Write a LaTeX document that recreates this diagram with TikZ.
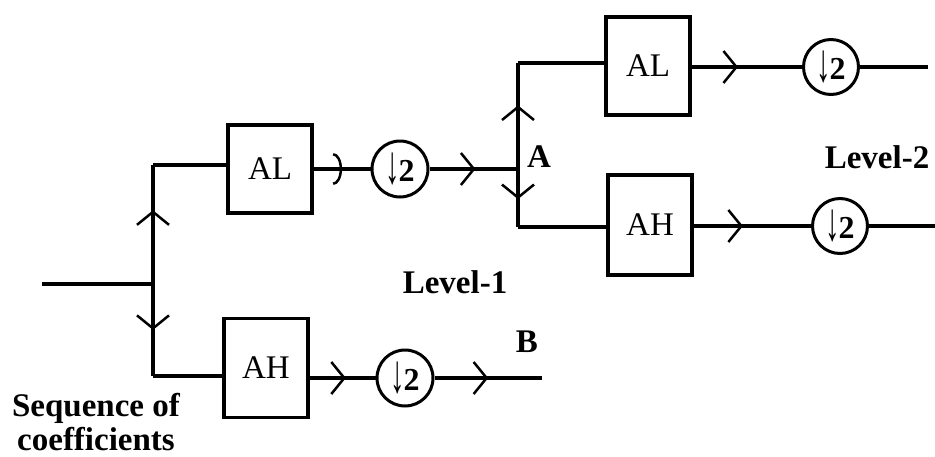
\documentclass[tikz,border=0pt]{standalone}
\usepackage{fontspec}
\setmainfont{Liberation Serif}
\usetikzlibrary{arrows.meta,
                decorations.markings,
                positioning}
\tikzset{block/.style=
   {rectangle,
    draw,
    line width=3.5pt,
    text centered,
    inner sep=0pt,
    minimum width=84pt,
    minimum height=95pt,
    font=\fontsize{33}{35}\selectfont}}
\tikzset{dsamp/.style=
   {circle,
    draw,
    line width=3pt,
    inner sep=0pt,
    minimum size=56pt,
    font=\fontsize{32}{34}\selectfont}}
\tikzset{wire/.style = {draw, line width=3.5pt}}
\tikzset{barb/.tip = {Straight Barb[length=13pt,width=32pt,line width=2.5pt]}}
\tikzset{curl/.tip = {Arc Barb[length=9pt,width=32pt,line width=2.5pt]}}
\tikzset{flow/.style = {postaction={decorate},
    decoration={markings, mark=at position #1 with {\arrow{barb}}}},
    flow/.default=0.5}
\tikzset{curlflow/.style = {postaction={decorate},
    decoration={markings, mark=at position #1 with {\arrow{curl}}}},
    curlflow/.default=0.5}
\tikzset{lbl/.style = {font=\fontsize{33}{35}\selectfont\bfseries}}
\newcommand{\downtwo}{\raisebox{-2pt}{\scalebox{0.9}[1.7]{↓}}\hspace{-1pt}\textbf{2}}

\begin{document}
\begin{tikzpicture}[x=1pt,y=-1pt]
    \useasboundingbox (0,0) rectangle (935,456);

    % Place nodes
    \coordinate (input) at (42,284);
    \coordinate (split1) at (153,284);
    \coordinate (top1) at (153,165);
    \coordinate (bot1) at (153,376);
    \node [block, minimum height=88pt] (AL1) at (270,169) {AL};
    \node [block, minimum height=99pt] (AH1) at (266,368) {AH};
    \node [dsamp] (D1) at (400,169) {\downtwo};
    \node [dsamp] (D3) at (405,378) {\downtwo};
    \coordinate (A) at (518,169);
    \coordinate (Bout) at (542,378);

    \coordinate (top2) at (518,63);
    \coordinate (bot2) at (518,227);
    \node [block, minimum height=98pt] (AL2) at (648,66) {AL};
    \node [block, minimum height=100pt] (AH2) at (650,225) {AH};
    \node [dsamp, minimum size=55pt] (D2) at (831,67) {\downtwo};
    \node [dsamp, minimum size=55pt] (D4) at (840,226) {\downtwo};
    \coordinate (out2a) at (928,67);
    \coordinate (out2b) at (935,226);

    % Labels
    \node [lbl] (labA) at (539,157) {A};
    \node [lbl] (labB) at (527,342) {B};
    \node [lbl] (lev1) at (455,282) {Level-1};
    \node [lbl] (lev2) at (877,157) {Level-2};
    \node [lbl, align=center, font=\fontsize{33}{34}\selectfont\bfseries]
        (seq) at (96,422) {Sequence of\\coefficients};

    % Draw edges, level 1
    \path [wire] (input) -- (split1);
    \path [wire, flow=0.62] (split1) -- (top1);
    \path [wire, flow=0.5] (split1) -- (bot1);
    \path [wire] (top1) -- (top1 -| AL1.west);
    \path [wire] (bot1) -- (bot1 -| AH1.west);
    \path [wire, curlflow=0.5] (AL1) -- (D1);
    \path [wire, flow=0.52] (D1) -- (A);
    \path [wire, flow=0.55] (AH1.east |- D3) -- (D3);
    \path [wire, flow=0.5] (D3) -- (Bout);

    % Draw edges, level 2
    \path [wire, flow=0.6] (A) -- (top2);
    \path [wire, flow=0.52] (A) -- (bot2);
    \path [wire] (top2) -- (top2 -| AL2.west);
    \path [wire] (bot2) -- (bot2 -| AH2.west);
    \path [wire, flow=0.42] (AL2.east |- D2) -- (D2);
    \path [wire, flow=0.42] (AH2.east |- D4) -- (D4);
    \path [wire] (D2) -- (out2a);
    \path [wire] (D4) -- (out2b);

\end{tikzpicture}
\end{document}
